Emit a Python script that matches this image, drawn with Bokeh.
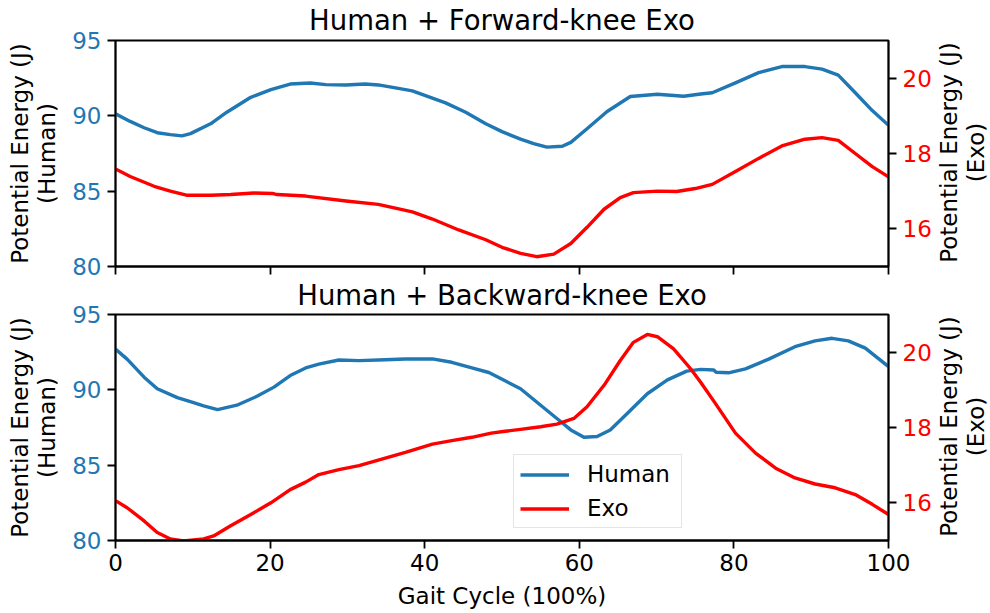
import math

from bokeh.plotting import figure
from bokeh.models import Range1d, LinearAxis, Legend, LegendItem, Label, Title
from bokeh.layouts import column, row
from bokeh.embed import file_html
from bokeh.resources import INLINE

FONT = "DejaVu Sans"
BLUE = "#1f77b4"
RED = "#ff0000"

# ---- Human + Forward-knee Exo ----
fwd_human_x = [0, 1.9, 3.7, 5.4, 7.1, 8.6, 9.7, 12.3, 14.4, 17.5, 20.1, 22.6, 25.2, 27.2,
               29.8, 32.3, 34.0, 36.6, 38.4, 40.1, 42.7, 45.3, 47.9, 50.0, 52.4, 54.1, 55.8,
               57.8, 58.9, 61.0, 63.6, 66.6, 70.1, 73.5, 75.7, 77.2, 80.2, 83.2, 86.2, 89.2,
               91.4, 93.5, 95.7, 97.9, 100]
fwd_human_y = [90.13, 89.63, 89.21, 88.88, 88.75, 88.67, 88.82, 89.47, 90.24, 91.23, 91.74,
               92.11, 92.18, 92.07, 92.05, 92.11, 92.05, 91.82, 91.66, 91.34, 90.86, 90.24,
               89.47, 88.95, 88.45, 88.16, 87.92, 87.98, 88.24, 89.14, 90.29, 91.28, 91.43,
               91.30, 91.45, 91.53, 92.19, 92.87, 93.27, 93.27, 93.10, 92.70, 91.53, 90.35, 89.37]

fwd_exo_x = [0, 1.9, 5.0, 7.1, 9.3, 12.3, 14.9, 17.9, 20.3, 20.9, 24.6, 29.8, 34.0, 38.4,
             41.0, 44.4, 47.9, 50.0, 52.4, 54.5, 56.7, 58.9, 61.0, 63.2, 65.3, 67.0, 70.1,
             72.6, 75.0, 77.2, 80.2, 83.2, 86.2, 89.2, 91.4, 93.5, 95.7, 97.9, 100]
fwd_exo_y = [17.59, 17.39, 17.13, 17.00, 16.89, 16.89, 16.91, 16.95, 16.94, 16.91, 16.87,
             16.74, 16.65, 16.45, 16.26, 15.97, 15.71, 15.51, 15.35, 15.26, 15.33, 15.61,
             16.04, 16.52, 16.83, 16.96, 17.00, 16.99, 17.07, 17.18, 17.52, 17.87, 18.20,
             18.38, 18.42, 18.35, 18.00, 17.65, 17.38]

# ---- Human + Backward-knee Exo ----
bwd_human_x = [0, 1.5, 3.7, 5.4, 8.0, 10.1, 11.4, 13.2, 15.7, 18.3, 20.5, 22.6, 24.6, 26.3,
               28.9, 31.5, 34.9, 37.5, 41.0, 43.5, 46.1, 48.3, 50.4, 52.4, 55.0, 57.1, 58.9,
               60.6, 62.3, 64.0, 66.2, 68.8, 71.4, 73.9, 75.7, 77.4, 77.7, 79.3, 81.5, 84.5,
               87.9, 90.5, 92.7, 94.8, 97.0, 100]
bwd_human_y = [92.70, 92.04, 90.84, 90.07, 89.48, 89.15, 88.94, 88.69, 88.98, 89.57, 90.18,
               90.95, 91.45, 91.71, 91.98, 91.94, 92.00, 92.05, 92.05, 91.83, 91.45, 91.15,
               90.60, 90.07, 88.98, 88.10, 87.34, 86.85, 86.90, 87.34, 88.43, 89.74, 90.66,
               91.24, 91.36, 91.32, 91.17, 91.13, 91.39, 92.04, 92.86, 93.25, 93.42, 93.25,
               92.77, 91.54]

bwd_exo_x = [0, 1.5, 3.7, 5.4, 7.1, 8.8, 11.4, 12.7, 14.9, 17.5, 20.1, 22.6, 24.6, 26.3,
             28.9, 31.5, 34.9, 37.5, 41.0, 43.5, 46.1, 48.6, 50.4, 52.4, 55.0, 57.1, 59.3,
             61.0, 63.2, 65.3, 67.0, 68.8, 70.1, 72.2, 74.4, 75.7, 77.6, 80.2, 82.8, 85.4,
             87.9, 90.5, 93.1, 95.7, 97.9, 100]
bwd_exo_y = [16.06, 15.87, 15.52, 15.21, 15.04, 14.99, 15.04, 15.12, 15.39, 15.69, 16.00,
             16.35, 16.55, 16.75, 16.88, 16.99, 17.19, 17.34, 17.56, 17.65, 17.74, 17.85,
             17.90, 17.95, 18.02, 18.09, 18.24, 18.55, 19.12, 19.78, 20.26, 20.47, 20.41,
             20.09, 19.56, 19.20, 18.64, 17.85, 17.32, 16.92, 16.66, 16.50, 16.40, 16.22,
             15.96, 15.69]

human_ticks = [80, 85, 90, 95]
exo_ticks = [16, 18, 20]
gait_ticks = [0, 20, 40, 60, 80, 100]

TITLE_FWD = "Human + Forward-knee Exo"
TITLE_BWD = "Human + Backward-knee Exo"
HUMAN_LABEL = "Potential Energy (J)\n(Human)"
EXO_LABEL = "Potential Energy (J)\n(Exo)"

TOTAL_H = 613
TOP_H = 276
MAIN_W = 935
SIDE_W = 55


def style_axis(ax, label_color):
    ax.axis_line_color = "black"
    ax.axis_line_width = 1.8
    ax.major_tick_line_color = "black"
    ax.major_tick_line_width = 1.8
    ax.major_tick_out = 8
    ax.major_tick_in = 0
    ax.minor_tick_line_color = None
    ax.major_label_text_font = FONT
    ax.major_label_text_font_size = "23px"
    ax.major_label_text_color = label_color
    ax.axis_label_text_font = FONT
    ax.axis_label_text_font_size = "23px"
    ax.axis_label_text_font_style = "normal"
    ax.axis_label_text_color = "black"
    ax.axis_label_text_line_height = 1.05


def make_title(text, standoff):
    return Title(text=text, text_font=FONT, text_font_size="27.5px",
                 text_font_style="normal", text_color="black", text_line_height=1.0,
                 align="center", vertical_align="top", standoff=standoff)


def make_panel(title, hx, hy, ex, ey, height, top, bottom, title_standoff, x_labels):
    p = figure(width=MAIN_W, height=height,
               x_range=Range1d(0, 100), y_range=Range1d(80, 95),
               output_backend="svg", toolbar_location=None,
               min_border_left=115, min_border_right=47,
               min_border_top=top, min_border_bottom=bottom)
    p.add_layout(make_title(title, title_standoff), "above")
    p.extra_y_ranges = {"exo": Range1d(15, 21)}
    p.xgrid.visible = False
    p.ygrid.visible = False
    p.outline_line_color = "black"
    p.outline_line_width = 1.8
    p.outline_line_alpha = 1.0
    p.background_fill_color = "white"
    p.border_fill_color = "white"

    p.xaxis.ticker = gait_ticks
    style_axis(p.xaxis[0], "black")
    if x_labels:
        p.xaxis.axis_label = "Gait Cycle (100%)"
        p.xaxis.major_label_standoff = 5
        p.xaxis.axis_label_standoff = 9
    else:
        # shared gait axis: ticks only, numbers shown on the lower panel
        p.xaxis.major_label_text_color = None
        p.xaxis.major_label_text_font_size = "1px"
        p.xaxis.major_label_standoff = 0

    p.yaxis.ticker = human_ticks
    style_axis(p.yaxis[0], BLUE)
    p.yaxis.axis_label = HUMAN_LABEL
    p.yaxis.major_label_standoff = 6
    p.yaxis.axis_label_standoff = 9

    right = LinearAxis(y_range_name="exo", ticker=exo_ticks)
    style_axis(right, RED)
    right.major_label_standoff = 6
    p.add_layout(right, "right")

    rh = p.line(hx, hy, line_color=BLUE, line_width=3.4, line_join="round")
    re = p.line(ex, ey, line_color=RED, line_width=3.4, line_join="round",
                y_range_name="exo")
    return p, rh, re


p1, _, _ = make_panel(TITLE_FWD, fwd_human_x, fwd_human_y, fwd_exo_x, fwd_exo_y,
                      TOP_H, 38, 10, 6, False)
p2, r_h, r_e = make_panel(TITLE_BWD, bwd_human_x, bwd_human_y, bwd_exo_x, bwd_exo_y,
                          TOTAL_H - TOP_H, 36, 73, 4, True)

legend = Legend(items=[LegendItem(label="Human", renderers=[r_h]),
                       LegendItem(label="Exo", renderers=[r_e])],
                location=(398, 12), margin=0, padding=6, spacing=8,
                glyph_width=49, glyph_height=23, label_standoff=18, label_width=88,
                label_text_font=FONT, label_text_font_size="23px",
                label_text_color="black",
                border_line_color="#cccccc", border_line_width=1.5,
                background_fill_color="white", background_fill_alpha=0.8)
p2.add_layout(legend)

# strip on the right carrying the exo-axis titles, reading bottom to top
side = figure(width=SIDE_W, height=TOTAL_H, x_range=Range1d(0, SIDE_W),
              y_range=Range1d(0, TOTAL_H), x_axis_type=None, y_axis_type=None,
              output_backend="svg", toolbar_location=None, min_border=0)
side.outline_line_color = None
side.xgrid.visible = False
side.ygrid.visible = False
side.background_fill_color = "white"
side.border_fill_color = "white"
for cy in (TOTAL_H - 152, TOTAL_H - 426):
    side.add_layout(Label(x=27, y=cy, text=EXO_LABEL, angle=math.pi / 2,
                          text_align="center", text_baseline="middle",
                          text_font=FONT, text_font_size="23px", text_color="black",
                          text_line_height=1.05))

layout = row(column(p1, p2, spacing=0), side, spacing=0)
open("out.html", "w").write(file_html(layout, INLINE))
